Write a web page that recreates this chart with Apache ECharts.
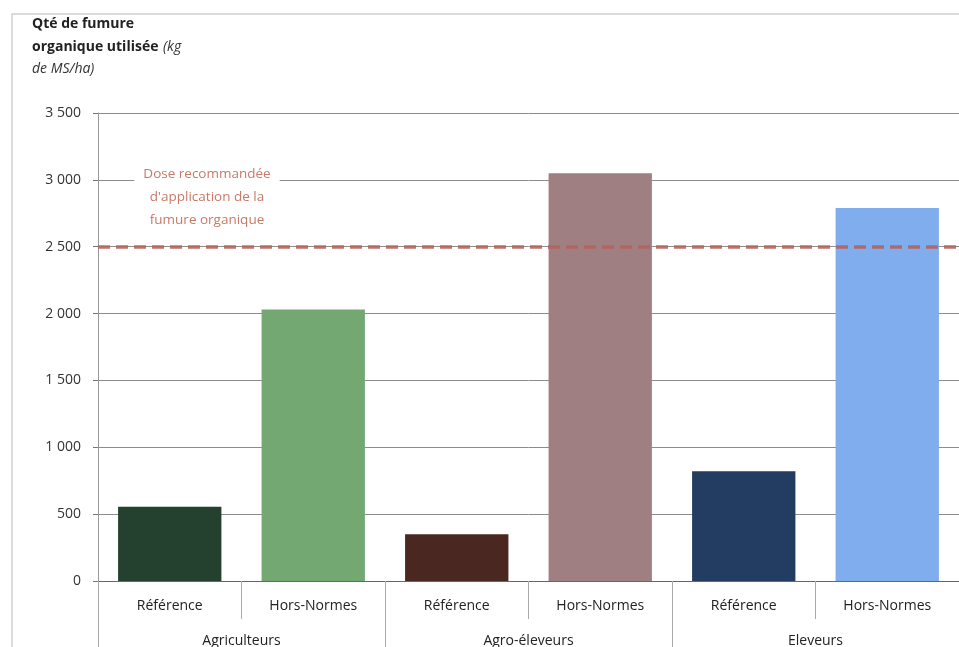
<!DOCTYPE html>
<html>
<head>
<meta charset="utf-8">
<script src="https://cdn.jsdelivr.net/npm/echarts@6/dist/echarts.min.js"></script>
<style>html,body{margin:0;padding:0;background:#fff}#c{width:959px;height:647px}</style>
</head>
<body>
<div id="c"></div>
<script>
const categories = ['Référence', 'Hors-Normes', 'Référence', 'Hors-Normes', 'Référence', 'Hors-Normes'];
const groups = ['Agriculteurs', 'Agro-éleveurs', 'Eleveurs'];
const values = [555, 2030, 350, 3050, 820, 2790];
const barColors = ['#24402f', '#73a873', '#4b2722', '#a07f83', '#223d61', '#7fadee'];
const recommendedDose = 2500;
const yTicks = { min: 0, max: 3500, interval: 500 };

const FONT = 'Open Sans';
const chart = echarts.init(document.getElementById('c'));
chart.setOption({
  animation: false,
  textStyle: { fontFamily: FONT },
  title: {
    left: 27, top: 8,
    text: '{b|Qté de fumure}\n{b|organique utilisée} {i|(kg}\n{i|de MS/ha)}',
    textStyle: {
      fontWeight: 'normal',
      rich: {
        b: { fontFamily: FONT, fontWeight: 'bold', fontSize: 14, color: '#222', lineHeight: 22.5 },
        i: { fontFamily: FONT, fontWeight: 'normal', fontStyle: 'italic', fontSize: 14, color: '#333', lineHeight: 22.5 }
      }
    }
  },
  graphic: [
    { type: 'rect', shape: { x: 12, y: 14, width: 1000, height: 700 }, style: { fill: 'none', stroke: '#cfcfcf', lineWidth: 1.5 }, z: -1 },
    {
      type: 'text', x: 207, y: 163, z: 10,
      style: {
        text: 'Dose recommandée\nd\'application de la\nfumure organique',
        fill: '#c87a68', font: '13.5px "Open Sans"', align: 'center', verticalAlign: 'top', lineHeight: 23,
        backgroundColor: '#fff', padding: [0, 9, 0, 9]
      }
    }
  ],
  grid: { left: 98, right: 0, top: 113, bottom: 66, outerBoundsMode: 'none', containLabel: false },
  xAxis: [
    {
      type: 'category', data: categories, position: 'bottom',
      axisLine: { lineStyle: { color: '#666', width: 1 } },
      axisTick: { show: true, interval: 0, length: 38, lineStyle: { color: '#aaa' } },
      axisLabel: { interval: 0, margin: 18, fontSize: 14, color: '#222', fontFamily: FONT }
    },
    {
      type: 'category', data: groups, position: 'bottom', offset: 38,
      axisLine: { show: false },
      axisTick: { show: true, interval: 0, length: 30, lineStyle: { color: '#aaa' } },
      axisLabel: { interval: 0, margin: 15, fontSize: 14, color: '#222', fontFamily: FONT }
    }
  ],
  yAxis: {
    type: 'value', min: yTicks.min, max: yTicks.max, interval: yTicks.interval,
    axisLine: { show: true, lineStyle: { color: '#999' } },
    axisTick: { show: true, length: 5, lineStyle: { color: '#777' } },
    axisLabel: {
      margin: 17, fontSize: 14, color: '#333', fontFamily: FONT,
      formatter: v => String(v).replace(/\B(?=(\d{3})+(?!\d))/g, ' ')
    },
    splitLine: { lineStyle: { color: '#8c8c8c', width: 1 } }
  },
  series: [{
    type: 'bar', xAxisIndex: 0,
    data: values.map((v, i) => ({ value: v, itemStyle: { color: barColors[i] } })),
    barCategoryGap: '28%',
    markLine: {
      silent: true, symbol: 'none', label: { show: false },
      lineStyle: { color: '#b5645c', type: [12, 6], width: 3.5, opacity: 0.9 },
      data: [{ yAxis: recommendedDose }],
      z: 5
    }
  }]
});
</script>
</body>
</html>
